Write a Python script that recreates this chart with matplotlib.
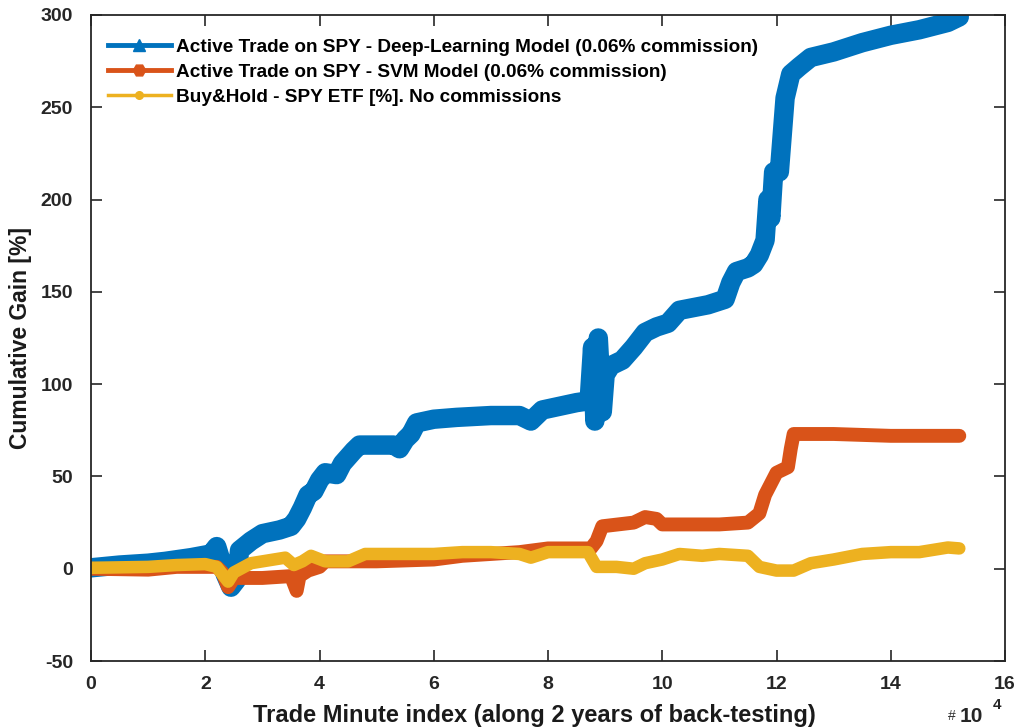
import matplotlib
matplotlib.use('Agg')
import matplotlib.pyplot as plt
from matplotlib.lines import Line2D
from matplotlib.ticker import FuncFormatter

# trade minute index (in units of 1e4) and cumulative gain [%]
dl_x = [0.0, 0.5, 1.0, 1.3, 1.75, 2.1, 2.2, 2.25, 2.35, 2.45, 2.55, 2.6, 2.8, 3.0, 3.3, 3.5,
        3.6, 3.7, 3.8, 3.9, 4.0, 4.1, 4.3, 4.4, 4.6, 4.7, 5.0, 5.3, 5.4, 5.5, 5.6, 5.7,
        6.0, 6.4, 7.0, 7.5, 7.7, 7.9, 8.2, 8.5, 8.72, 8.78, 8.82, 8.88, 8.95, 9.0, 9.1,
        9.3, 9.5, 9.7, 9.9, 10.1, 10.3, 10.8, 11.1, 11.2, 11.3, 11.5, 11.6, 11.7, 11.8,
        11.85, 11.9, 11.95, 12.05, 12.1, 12.15, 12.25, 12.4, 12.6, 13.0, 13.5, 14.0,
        14.5, 15.0, 15.2]
dl_y = [0.5, 2, 3, 4, 6, 8, 12, 7, -3, -10, -6, 10, 15, 19, 21, 23,
        27, 33, 40, 42, 48, 52, 51, 57, 64, 67, 67, 67, 65, 70, 73, 79,
        81, 82, 83, 83, 80, 86, 88, 90, 91, 120, 80, 125, 85, 105, 110,
        113, 120, 128, 131, 133, 140, 143, 146, 155, 161, 163, 165, 170, 178,
        200, 190, 215, 215, 235, 255, 268, 272, 277, 280, 285, 289,
        292, 296, 299]

svm_x = [0.0, 1.0, 1.5, 2.2, 2.3, 2.4, 2.5, 3.0, 3.5, 3.6, 3.65, 3.8, 4.0, 4.1, 5.0, 6.0,
         6.5, 7.5, 8.0, 8.75, 8.85, 8.95, 9.5, 9.7, 9.9, 10.0, 11.0, 11.5, 11.7, 11.8,
         11.9, 12.0, 12.2, 12.25, 12.3, 13.0, 14.0, 15.2]
svm_y = [0, -0.5, 1, 1, -2, -10, -5, -5, -4, -12, -4, -1, 1, 4, 4, 5,
         7, 9, 11, 11, 15, 23, 25, 28, 27, 24, 24, 25, 30, 40,
         46, 52, 55, 65, 73, 73, 72, 72]

bh_x = [0.0, 1.0, 1.5, 2.0, 2.2, 2.4, 2.5, 2.8, 3.2, 3.4, 3.55, 3.7, 3.85, 4.1, 4.5, 4.8,
        5.5, 6.0, 6.5, 7.0, 7.5, 7.7, 8.0, 8.7, 8.85, 9.2, 9.5, 9.7, 10.0, 10.3, 10.7,
        11.0, 11.5, 11.7, 12.0, 12.3, 12.6, 13.0, 13.5, 14.0, 14.5, 15.0, 15.2]
bh_y = [0.5, 1, 2, 2.5, 1, -7, -2, 3, 5, 6, 2, 4, 7, 4, 4, 8,
        8, 8, 9, 9, 8, 6, 9, 9, 1, 1, 0, 3, 5, 8, 7,
        8, 7, 1, -1, -1, 3, 5, 8, 9, 9, 11.5, 11]

labels = ['Active Trade on SPY - Deep-Learning Model (0.06% commission)',
          'Active Trade on SPY - SVM Model (0.06% commission)',
          'Buy&Hold - SPY ETF [%]. No commissions']
colors = ['#0072BD', '#D95319', '#EDB120']

plt.rcParams['font.family'] = ['Liberation Sans', 'DejaVu Sans']
plt.rcParams['font.weight'] = 'bold'
plt.rcParams['axes.unicode_minus'] = False

fig = plt.figure(figsize=(10.17, 7.28), dpi=100)
ax = fig.add_axes([0.0895, 0.092, 0.8987, 0.8874])

scale = 1e4
ax.plot([v * scale for v in dl_x], dl_y, color=colors[0], lw=14,
        solid_joinstyle='round', solid_capstyle='round')
ax.plot([v * scale for v in svm_x], svm_y, color=colors[1], lw=10,
        solid_joinstyle='round', solid_capstyle='round')
ax.plot([v * scale for v in bh_x], bh_y, color=colors[2], lw=9,
        solid_joinstyle='round', solid_capstyle='round')

ax.set_xlim(0, 16e4)
ax.set_ylim(-50, 300)
ax.set_xticks([i * 2e4 for i in range(9)])
ax.set_yticks(range(-50, 301, 50))
ax.xaxis.set_major_formatter(FuncFormatter(lambda v, p: '%d' % round(v / scale)))
ax.tick_params(direction='in', length=8, width=1.2, top=True, right=True,
               labelsize=14, colors='#262626')
ax.tick_params(axis='x', pad=11)
ax.tick_params(axis='y', pad=13)
for lbl in ax.get_xticklabels() + ax.get_yticklabels():
    lbl.set_fontweight('bold')
for s in ax.spines.values():
    s.set_linewidth(1.3)
    s.set_color('#262626')

ax.set_xlabel('Trade Minute index (along 2 years of back-testing)', fontsize=17,
              fontweight='bold', color='#1a1a1a')
ax.xaxis.set_label_coords(0.485, -0.066)
ax.set_ylabel('Cumulative Gain [%]', fontsize=16.5, fontweight='bold', labelpad=6,
              color='#1a1a1a')

fig.text(0.932, 0.011, '#', fontsize=10, fontweight='normal', color='#333333')
fig.text(0.944, 0.008, '10', fontsize=15, fontweight='bold', color='#262626')
fig.text(0.976, 0.026, '4', fontsize=11, fontweight='bold', color='#262626')

handles = [
    Line2D([], [], color=colors[0], lw=3.5, marker='^', markersize=8.5),
    Line2D([], [], color=colors[1], lw=3.5, marker='H', markersize=9),
    Line2D([], [], color=colors[2], lw=2.5, marker='o', markersize=5.5),
]
ax.legend(handles, labels, loc='upper left', frameon=False,
          handlelength=3.3, handletextpad=0.25, labelspacing=0.4,
          borderaxespad=0.3, bbox_to_anchor=(0.004, 0.984),
          prop={'weight': 'bold', 'size': 13.7})

fig.savefig('out.png', dpi=100)
